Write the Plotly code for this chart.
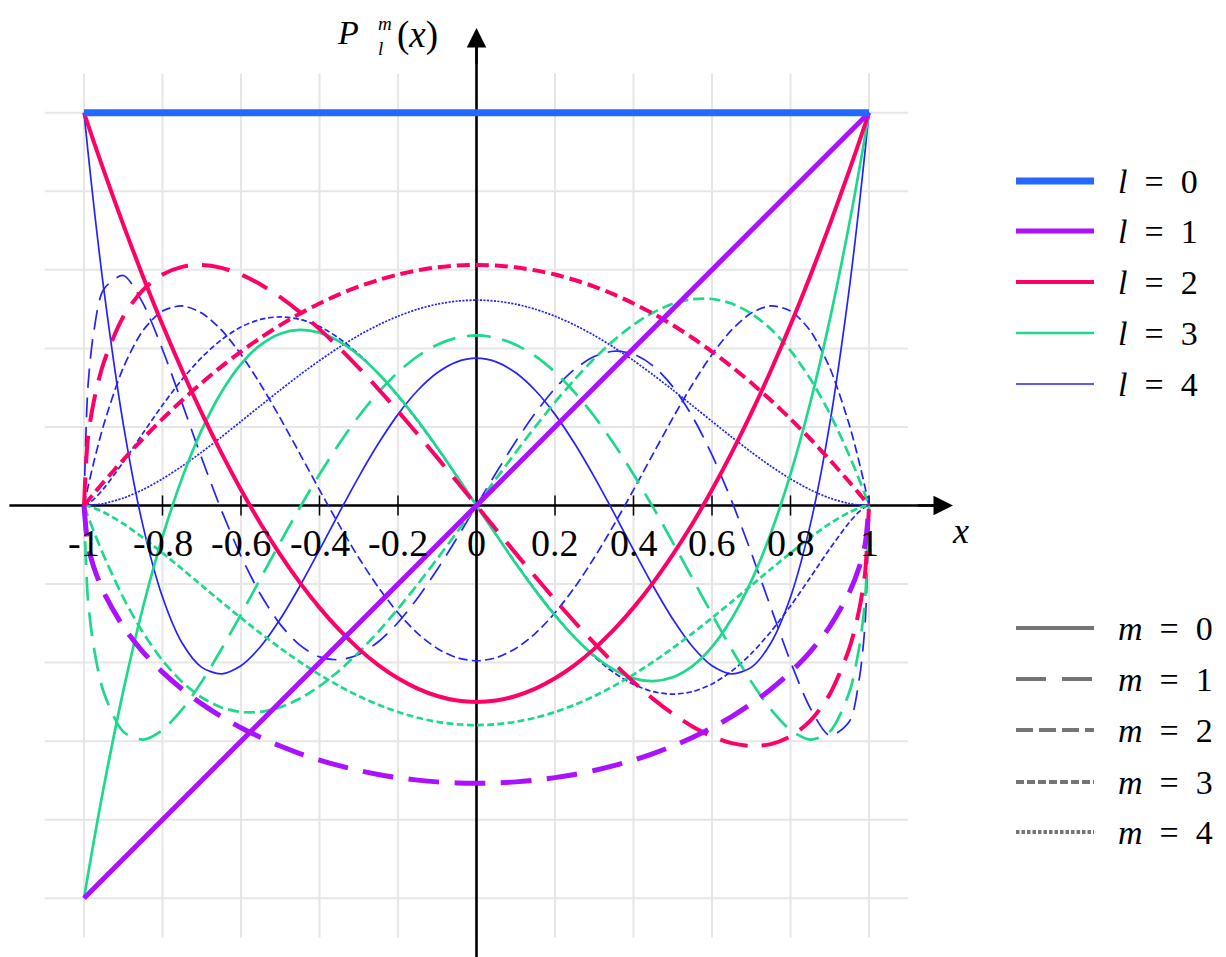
import plotly.graph_objects as go

# ---------------- data ----------------
X = [-1, -0.99, -0.975, -0.95, -0.9, -0.85, -0.8, -0.75, -0.7, -0.65, -0.6, -0.55,
     -0.5, -0.45, -0.4, -0.35, -0.3, -0.25, -0.2, -0.15, -0.1, -0.05, 0,
     0.05, 0.1, 0.15, 0.2, 0.25, 0.3, 0.35, 0.4, 0.45, 0.5, 0.55, 0.6, 0.65,
     0.7, 0.75, 0.8, 0.85, 0.9, 0.95, 0.975, 0.99, 1]

X_LINE = [-1, 1]
P00 = [1, 1]
P10 = [-1, 1]

P11 = [0, -0.0998, -0.1571, -0.2208, -0.3082, -0.3725, -0.4243, -0.4677, -0.5050, -0.5374, -0.5657,
       -0.5906, -0.6124, -0.6315, -0.6481, -0.6624, -0.6745, -0.6847, -0.6928, -0.6991, -0.7036,
       -0.7062, -0.7071, -0.7062, -0.7036, -0.6991, -0.6928, -0.6847, -0.6745, -0.6624, -0.6481,
       -0.6315, -0.6124, -0.5906, -0.5657, -0.5374, -0.5050, -0.4677, -0.4243, -0.3725, -0.3082,
       -0.2208, -0.1571, -0.0998, 0]

P20 = [1, 0.9702, 0.9259, 0.8538, 0.715, 0.5838, 0.46, 0.3438, 0.235, 0.1338, 0.04, -0.0463,
       -0.125, -0.1963, -0.26, -0.3163, -0.365, -0.4063, -0.44, -0.4663, -0.485, -0.4963, -0.5,
       -0.4963, -0.485, -0.4663, -0.44, -0.4063, -0.365, -0.3163, -0.26, -0.1963, -0.125, -0.0463,
       0.04, 0.1338, 0.235, 0.3438, 0.46, 0.5838, 0.715, 0.8538, 0.9259, 0.9702, 1]

P21 = [0, 0.171, 0.2653, 0.3633, 0.4805, 0.5484, 0.5879, 0.6076, 0.6122, 0.605, 0.5879, 0.5626,
       0.5303, 0.4922, 0.449, 0.4016, 0.3505, 0.2965, 0.24, 0.1816, 0.1219, 0.0612, 0,
       -0.0612, -0.1219, -0.1816, -0.24, -0.2965, -0.3505, -0.4016, -0.449, -0.4922, -0.5303,
       -0.5626, -0.5879, -0.605, -0.6122, -0.6076, -0.5879, -0.5484, -0.4805, -0.3633, -0.2653,
       -0.171, 0]

P22 = [0, 0.0122, 0.0302, 0.0597, 0.1164, 0.1699, 0.2205, 0.2679, 0.3123, 0.3537, 0.3919, 0.4271,
       0.4593, 0.4884, 0.5144, 0.5374, 0.5573, 0.5741, 0.5879, 0.5986, 0.6063, 0.6108, 0.6124,
       0.6108, 0.6063, 0.5986, 0.5879, 0.5741, 0.5573, 0.5374, 0.5144, 0.4884, 0.4593, 0.4271,
       0.3919, 0.3537, 0.3123, 0.2679, 0.2205, 0.1699, 0.1164, 0.0597, 0.0302, 0.0122, 0]

P30 = [-1, -0.9408, -0.8547, -0.7184, -0.4725, -0.2603, -0.08, 0.0703, 0.1925, 0.2884, 0.36,
       0.4091, 0.4375, 0.4472, 0.44, 0.4178, 0.3825, 0.3359, 0.28, 0.2166, 0.1475, 0.0747, 0,
       -0.0747, -0.1475, -0.2166, -0.28, -0.3359, -0.3825, -0.4178, -0.44, -0.4472, -0.4375,
       -0.4091, -0.36, -0.2884, -0.1925, -0.0703, 0.08, 0.2603, 0.4725, 0.7184, 0.8547, 0.9408, 1]

P31 = [0, -0.2383, -0.3611, -0.4749, -0.5757, -0.5959, -0.5716, -0.5191, -0.4484, -0.3661, -0.2771,
       -0.1853, -0.0938, -0.0048, 0.0794, 0.1572, 0.2272, 0.2882, 0.3394, 0.38, 0.4093, 0.4271,
       0.433, 0.4271, 0.4093, 0.38, 0.3394, 0.2882, 0.2272, 0.1572, 0.0794, -0.0048, -0.0938,
       -0.1853, -0.2771, -0.3661, -0.4484, -0.5191, -0.5716, -0.5959, -0.5757, -0.4749, -0.3611,
       -0.2383, 0]

P32 = [0, -0.027, -0.0659, -0.1268, -0.2342, -0.323, -0.3944, -0.4493, -0.4888, -0.514, -0.5258,
       -0.5253, -0.5135, -0.4914, -0.4601, -0.4206, -0.3738, -0.3209, -0.2629, -0.2008, -0.1356,
       -0.0683, 0, 0.0683, 0.1356, 0.2008, 0.2629, 0.3209, 0.3738, 0.4206, 0.4601, 0.4914, 0.5135,
       0.5253, 0.5258, 0.514, 0.4888, 0.4493, 0.3944, 0.323, 0.2342, 0.1268, 0.0659, 0.027, 0]

P33 = [0, -0.0016, -0.0061, -0.017, -0.0463, -0.0817, -0.1208, -0.1618, -0.2036, -0.2453, -0.2862,
       -0.3256, -0.3631, -0.3981, -0.4304, -0.4595, -0.4853, -0.5074, -0.5258, -0.5403, -0.5507,
       -0.5569, -0.559, -0.5569, -0.5507, -0.5403, -0.5258, -0.5074, -0.4853, -0.4595, -0.4304,
       -0.3981, -0.3631, -0.3256, -0.2862, -0.2453, -0.2036, -0.1618, -0.1208, -0.0817, -0.0463,
       -0.017, -0.0061, -0.0016, 0]

P40 = [1, 0.9022, 0.7638, 0.5541, 0.2079, -0.0506, -0.233, -0.3501, -0.4121, -0.4284, -0.408,
       -0.359, -0.2891, -0.205, -0.113, -0.0187, 0.0729, 0.1577, 0.232, 0.2928, 0.3379, 0.3657,
       0.375, 0.3657, 0.3379, 0.2928, 0.232, 0.1577, 0.0729, -0.0187, -0.113, -0.205, -0.2891,
       -0.359, -0.408, -0.4284, -0.4121, -0.3501, -0.233, -0.0506, 0.2079, 0.5541, 0.7638, 0.9022, 1]

P41 = [0, 0.3014, 0.4426, 0.5501, 0.5855, 0.515, 0.3971, 0.26, 0.1202, -0.0117, -0.1288, -0.2266,
       -0.3026, -0.3555, -0.3853, -0.3927, -0.3792, -0.3468, -0.298, -0.2357, -0.163, -0.0833, 0,
       0.0833, 0.163, 0.2357, 0.298, 0.3468, 0.3792, 0.3927, 0.3853, 0.3555, 0.3026, 0.2266,
       0.1288, 0.0117, -0.1202, -0.26, -0.3971, -0.515, -0.5855, -0.5501, -0.4426, -0.3014, 0]

P42 = [0, 0.0461, 0.1104, 0.2049, 0.3507, 0.4451, 0.4952, 0.508, 0.4899, 0.4469, 0.3845, 0.3081,
       0.2224, 0.1316, 0.0398, -0.0494, -0.1331, -0.2085, -0.2732, -0.3255, -0.3639, -0.3874,
       -0.3953, -0.3874, -0.3639, -0.3255, -0.2732, -0.2085, -0.1331, -0.0494, 0.0398, 0.1316,
       0.2224, 0.3081, 0.3845, 0.4469, 0.4899, 0.508, 0.4952, 0.4451, 0.3507, 0.2049, 0.1104,
       0.0461, 0]

P43 = [0, 0.0041, 0.0158, 0.0428, 0.1102, 0.1838, 0.2556, 0.321, 0.3771, 0.4219, 0.4544, 0.4739,
       0.4803, 0.474, 0.4555, 0.4255, 0.3852, 0.3356, 0.2782, 0.2144, 0.1457, 0.0737, 0,
       -0.0737, -0.1457, -0.2144, -0.2782, -0.3356, -0.3852, -0.4255, -0.4555, -0.474, -0.4803,
       -0.4739, -0.4544, -0.4219, -0.3771, -0.321, -0.2556, -0.1838, -0.1102, -0.0428, -0.0158,
       -0.0041, 0]

P44 = [0, 0.0002, 0.0013, 0.005, 0.0189, 0.0403, 0.0678, 0.1001, 0.136, 0.1744, 0.2142, 0.2544,
       0.2941, 0.3326, 0.369, 0.4027, 0.433, 0.4596, 0.4819, 0.4997, 0.5125, 0.5203, 0.5229,
       0.5203, 0.5125, 0.4997, 0.4819, 0.4596, 0.433, 0.4027, 0.369, 0.3326, 0.2941, 0.2544,
       0.2142, 0.1744, 0.136, 0.1001, 0.0678, 0.0403, 0.0189, 0.005, 0.0013, 0.0002, 0]

TICKS = [-1, -0.8, -0.6, -0.4, -0.2, 0, 0.2, 0.4, 0.6, 0.8, 1]
TICK_LABELS = ["-1", "-0.8", "-0.6", "-0.4", "-0.2", "0", "0.2", "0.4", "0.6", "0.8", "1"]
GRID_Y = [-1, -0.8, -0.6, -0.4, -0.2, 0, 0.2, 0.4, 0.6, 0.8, 1]
L_VALUES = [0, 1, 2, 3, 4]
M_VALUES = [0, 1, 2, 3, 4]

CURVES = [
    (4, 0, X, P40), (4, 1, X, P41), (4, 2, X, P42), (4, 3, X, P43), (4, 4, X, P44),
    (3, 0, X, P30), (3, 1, X, P31), (3, 2, X, P32), (3, 3, X, P33),
    (2, 0, X, P20), (2, 1, X, P21), (2, 2, X, P22),
    (1, 0, X_LINE, P10), (1, 1, X, P11),
    (0, 0, X_LINE, P00),
]

# ---------------- styles ----------------
OFF = 8                      # page body margin of the rendered html
W, H = 1226 - OFF, 957 - OFF
COLORS = {0: "#2468ff", 1: "#aa11ff", 2: "#ff0066", 3: "#1ed98c", 4: "#2222ff"}
WIDTHS = {0: 7, 1: 5, 2: 4, 3: 2.7, 4: 1.7}
DASH_BASE = {1: (28, 14), 2: (13, 6), 3: (8, 4), 4: (3, 2)}
DASH_SCALE = {0: 1.0, 1: 1.1, 2: 1.0, 3: 0.85, 4: 0.7}
LEG_DASH = {0: "solid", 1: "30px,16px", 2: "17px,6px", 3: "8px,3px", 4: "3.5px,2px"}
FONT = "Liberation Serif, Times New Roman, DejaVu Serif, serif"
EN = "\u2002"

# pixel <-> data mapping of the reference
X_PX0, X_SCALE = 476.5, 392.5
Y_PX0, Y_SCALE = 505.5, 392.8


def dash_for(l, m):
    if m == 0:
        return "solid"
    on, off = DASH_BASE[m]
    s = DASH_SCALE[l]
    return f"{on * s:.1f}px,{off * s:.1f}px"


def PX(px):
    return (px - OFF) / W


def PY(py):
    return 1 - (py - OFF) / H


x_range = [(OFF - X_PX0) / X_SCALE, (1226 - X_PX0) / X_SCALE]
y_range = [(Y_PX0 - 957) / Y_SCALE, (Y_PX0 - OFF) / Y_SCALE]

fig = go.Figure()

for l, m, xs, ys in CURVES:
    fig.add_trace(go.Scatter(
        x=xs, y=ys, mode="lines",
        line=dict(color=COLORS[l], width=WIDTHS[l], dash=dash_for(l, m),
                  shape="spline" if len(xs) > 2 else "linear", smoothing=0.8),
        showlegend=False, hoverinfo="skip"))

shapes = []
# grid
for v in TICKS:
    shapes.append(dict(type="line", xref="x", yref="y", x0=v, x1=v, y0=-1.1, y1=1.1,
                       line=dict(color="#e6e6e6", width=2), layer="below"))
for v in GRID_Y:
    shapes.append(dict(type="line", xref="x", yref="y", x0=-1.1, x1=1.1, y0=v, y1=v,
                       line=dict(color="#e6e6e6", width=2), layer="below"))
# axes
shapes.append(dict(type="line", xref="x", yref="y", x0=-1.19, x1=1.19, y0=0, y1=0,
                   line=dict(color="black", width=2.6), layer="below"))
shapes.append(dict(type="line", xref="x", yref="y", x0=0, x1=0, y0=-1.2, y1=1.19,
                   line=dict(color="black", width=2.6), layer="below"))
# ticks
for v in TICKS:
    shapes.append(dict(type="line", xref="x", yref="y", x0=v, x1=v, y0=-0.0255, y1=0.0255,
                       line=dict(color="black", width=1.5), layer="below"))

annotations = []
# arrow heads
annotations.append(dict(x=1.214, y=0, ax=1.12, ay=0, xref="x", yref="y", axref="x", ayref="y",
                        text="", showarrow=True, arrowhead=2, arrowsize=1.5, arrowwidth=2.6,
                        arrowcolor="black"))
annotations.append(dict(x=0, y=1.2156, ax=0, ay=1.12, xref="x", yref="y", axref="x", ayref="y",
                        text="", showarrow=True, arrowhead=2, arrowsize=1.5, arrowwidth=2.6,
                        arrowcolor="black"))
# tick labels
for v, t in zip(TICKS, TICK_LABELS):
    annotations.append(dict(x=v, y=PY(543), xref="x", yref="paper", text=t, showarrow=False,
                            xanchor="center", yanchor="middle",
                            font=dict(family=FONT, size=38, color="black")))
# axis labels
annotations.append(dict(x=PX(960), y=PY(531), xref="paper", yref="paper", text="<i>x</i>",
                        showarrow=False, xanchor="center", yanchor="middle",
                        font=dict(family=FONT, size=36, color="black")))
annotations.append(dict(x=PX(335), y=PY(32), xref="paper", yref="paper", text="<i>P</i>",
                        showarrow=False, xanchor="left", yanchor="middle",
                        font=dict(family=FONT, size=34, color="black")))
annotations.append(dict(x=PX(376), y=PY(36), xref="paper", yref="paper",
                        text="<i>m</i><br><i>l</i>", align="left",
                        showarrow=False, xanchor="left", yanchor="middle",
                        font=dict(family=FONT, size=19, color="black")))
annotations.append(dict(x=PX(395), y=PY(35), xref="paper", yref="paper", text="(<i>x</i>)",
                        showarrow=False, xanchor="left", yanchor="middle",
                        font=dict(family=FONT, size=37, color="black")))

# legend: l (colour / width)
L_ROWS = [181, 231, 282, 333, 384]
for l, py in zip(L_VALUES, L_ROWS):
    shapes.append(dict(type="line", xref="paper", yref="paper", x0=PX(1016), x1=PX(1094),
                       y0=PY(py), y1=PY(py), line=dict(color=COLORS[l], width=WIDTHS[l])))
    annotations.append(dict(x=PX(1116), y=PY(py), xref="paper", yref="paper",
                            text=f"<i>l</i>{EN}={EN}{l}", showarrow=False,
                            xanchor="left", yanchor="middle",
                            font=dict(family=FONT, size=34, color="black")))
# legend: m (dash)
M_ROWS = [628, 679, 730, 782, 832]
for m, py in zip(M_VALUES, M_ROWS):
    shapes.append(dict(type="line", xref="paper", yref="paper", x0=PX(1016), x1=PX(1094),
                       y0=PY(py), y1=PY(py), line=dict(color="#757575", width=4, dash=LEG_DASH[m])))
    annotations.append(dict(x=PX(1116), y=PY(py), xref="paper", yref="paper",
                            text=f"<i>m</i>{EN}={EN}{m}", showarrow=False,
                            xanchor="left", yanchor="middle",
                            font=dict(family=FONT, size=34, color="black")))

fig.update_layout(
    width=W, height=H,
    margin=dict(l=0, r=0, t=0, b=0),
    paper_bgcolor="white", plot_bgcolor="white",
    xaxis=dict(range=x_range, visible=False, fixedrange=True),
    yaxis=dict(range=y_range, visible=False, fixedrange=True),
    shapes=shapes, annotations=annotations,
    showlegend=False,
)

fig.write_html("out.html")
